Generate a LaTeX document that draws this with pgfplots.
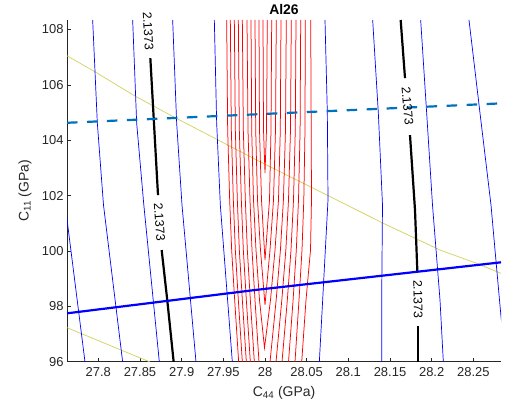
\documentclass[border=0pt]{standalone}
\usepackage{pgfplots}
\pgfplotsset{compat=1.18}
\usepackage{fontspec}
\setmainfont{Liberation Sans}
\definecolor{mblue}{rgb}{0,0.447,0.741}
\definecolor{yel}{rgb}{0.82,0.82,0.35}
\definecolor{axgray}{rgb}{0.15,0.15,0.15}
\begin{document}
\begin{tikzpicture}
\path[use as bounding box] (-67bp,-46.3bp) rectangle (440bp,361.7bp);
\begin{axis}[
  at={(0,0)}, anchor=south west,
  scale only axis, width=434bp, height=341.7bp,
  xmin=27.7624, xmax=28.2832, ymin=96, ymax=108.34,
  axis x line*=bottom, axis y line*=left,
  axis line style={-, draw=axgray, line width=0.5bp},
  tick align=inside, major tick length=4bp,
  tick style={draw=axgray, line width=0.5bp},
  clip mode=individual,
  xtick={27.8,27.85,27.9,27.95,28,28.05,28.1,28.15,28.2,28.25},
  xticklabels={27.8,27.85,27.9,27.95,28,28.05,28.1,28.15,28.2,28.25},
  ytick={96,98,100,102,104,106,108},
  yticklabels={96,98,100,102,104,106,108},
  /pgf/number format/assume math mode=true,
  ticklabel style={font=\fontsize{13}{15}\selectfont, text=axgray},
  xticklabel style={yshift=-2bp},
  title={\bfseries Al26},
  every axis title/.style={at={(axis description cs:0.5,1)}, anchor=base, yshift=5bp, font=\fontsize{14}{16}\selectfont},
  xlabel={C\textsubscript{44} (GPa)},
  ylabel={C\textsubscript{11} (GPa)},
  xlabel style={at={(axis description cs:0.5,-0.1019)}, anchor=base, font=\fontsize{14}{16}\selectfont, text=axgray},
  ylabel style={at={(axis description cs:-0.097,0.5)}, anchor=center, font=\fontsize{14}{16}\selectfont, text=axgray},
  redc/.style={red, line width=0.75bp},
  bluec/.style={blue, line width=0.7bp},
  blk/.style={black, line width=2.2bp},
]
% yellow lines
\addplot[yel, line width=0.7bp] coordinates {(27.7624,107.047)(27.796,106.469)(27.842,105.628)(27.89,104.845)(27.94,104.065)(27.994,103.22)(28.072,102.054)(28.142,100.997)(28.21,100.033)(28.254,99.553)(28.2832,99.188)};
\addplot[yel, line width=0.7bp] coordinates {(27.7624,97.228)(27.862,95.99)};
% blue thin contours
\addplot[bluec] coordinates {(27.7932,108.34)(27.7988,104.617)(27.8062,101.657)(27.8292,95.99)};
\addplot[bluec] coordinates {(27.8412,108.34)(27.846,104.617)(27.8546,101.657)(27.8732,95.99)};
\addplot[bluec] coordinates {(27.8892,108.34)(27.894,104.617)(27.9004,101.657)(27.9172,95.99)};
\addplot[bluec] coordinates {(27.9392,108.34)(27.942,104.617)(27.9464,101.657)(27.9608,95.99)};
\addplot[bluec] coordinates {(27.7603,101.64)(27.7624,101.141)(27.784,95.99)};
\addplot[bluec] coordinates {(28.072,108.34)(28.0748,104.978)(28.0756,101.838)(28.0692,98.228)(28.0652,95.99)};
\addplot[bluec] coordinates {(28.1292,108.34)(28.136,104.978)(28.141,101.657)(28.14,98.228)(28.14,95.99)};
\addplot[bluec] coordinates {(28.1868,108.34)(28.194,104.978)(28.201,101.657)(28.21,98.228)(28.214,95.99)};
\addplot[bluec] coordinates {(28.2448,108.34)(28.258,104.978)(28.2712,101.657)(28.276,100.033)(28.2832,97.625)(28.2856,96.964)};
% red contours: outer left
\addplot[redc] coordinates {(27.9540,108.34)(27.9552,104.37)(27.9576,101.84)(27.9600,100.03)(27.9636,98.23)(27.9684,95.99)};
\addplot[redc] coordinates {(27.9584,108.34)(27.9596,104.37)(27.9620,101.84)(27.9644,100.03)(27.9680,98.23)(27.9728,95.99)};
\addplot[redc] coordinates {(27.9632,108.34)(27.9644,104.37)(27.9668,101.84)(27.9692,100.03)(27.9728,98.23)(27.9776,95.99)};
\addplot[redc] coordinates {(27.9680,108.34)(27.9692,104.37)(27.9716,101.84)(27.9740,100.03)(27.9776,98.23)(27.9824,95.99)};
\addplot[redc] coordinates {(27.9728,108.34)(27.9740,104.37)(27.9764,101.84)(27.9788,100.03)(27.9824,98.23)(27.9872,95.99)};
\addplot[redc] coordinates {(27.9784,108.34)(27.9796,104.37)(27.9820,101.84)(27.9844,100.03)(27.9880,98.23)(27.9928,95.99)};
% red contours: nested V shapes
\addplot[redc] coordinates {(27.9976,108.34)(27.9982,104.37)(28.0000,102.81)(28.0018,104.37)(28.00276,108.34)};
\addplot[redc] coordinates {(27.9928,108.34)(27.9934,104.37)(27.9958,101.84)(28.0000,99.67)(28.0054,101.84)(28.0072,104.37)(28.00804,108.34)};
\addplot[redc] coordinates {(27.9880,108.34)(27.98884,104.37)(27.9910,101.84)(27.9946,100.03)(28.0000,98.05)(28.006,100.03)(28.0102,101.84)(28.0126,104.37)(28.01356,108.34)};
\addplot[redc] coordinates {(27.9832,108.34)(27.98404,104.37)(27.9862,101.84)(27.9892,100.03)(27.9934,98.23)(27.9994,96.50)(28.0066,98.23)(28.012,100.03)(28.0162,101.84)(28.01836,104.37)(28.0192,108.34)};
% red contours: outer right
\addplot[redc] coordinates {(28.02556,108.34)(28.0246,104.37)(28.0221,101.84)(28.0185,100.03)(28.0134,98.23)(28.006,95.99)};
\addplot[redc] coordinates {(28.03156,108.34)(28.0306,104.37)(28.0282,101.84)(28.025,100.03)(28.0202,98.23)(28.0132,95.99)};
\addplot[redc] coordinates {(28.0372,108.34)(28.03636,104.37)(28.0342,101.84)(28.0312,100.03)(28.0268,98.23)(28.0204,95.99)};
\addplot[redc] coordinates {(28.04284,108.34)(28.04212,104.37)(28.0402,101.84)(28.03756,100.03)(28.03372,98.23)(28.0282,95.99)};
\addplot[redc] coordinates {(28.04836,108.34)(28.048,104.37)(28.04656,101.84)(28.0444,100.03)(28.0408,98.23)(28.036,95.99)};
\addplot[redc] coordinates {(28.05484,108.34)(28.05544,104.37)(28.0558,101.84)(28.0546,100.03)(28.0492,98.23)(28.04404,95.99)};
% black 2.1373 contours
\addplot[blk] coordinates {(27.8624,106.964)(27.8716,102.018)};
\addplot[blk] coordinates {(27.876,100.033)(27.8827,98.228)(27.8904,95.99)};
\addplot[blk] coordinates {(28.1628,108.34)(28.168,106.242)};
\addplot[blk] coordinates {(28.174,104.184)(28.18,101.477)(28.1828,99.275)};
\addplot[blk] coordinates {(28.184,97.289)(28.184,95.99)};
% thick blue and dashed lines
\addplot[blue, line width=2.2bp] coordinates {(27.7624,97.747)(27.988,98.589)(28.2832,99.589)};
\addplot[mblue, line width=2.2bp, dash pattern=on 10.5bp off 9.5bp] coordinates {(27.7624,104.628)(28.2832,105.329)};
% contour labels
\node[rotate=-87, font=\fontsize{12.5}{14}\selectfont, inner sep=0pt] at (axis cs:27.8598,107.94) {2.1373};
\node[rotate=-86, font=\fontsize{12.5}{14}\selectfont, inner sep=0pt] at (axis cs:27.8734,101.044) {2.1373};
\node[rotate=-85, font=\fontsize{12.5}{14}\selectfont, inner sep=0pt] at (axis cs:28.171,105.231) {2.1373};
\node[rotate=-89, font=\fontsize{12.5}{14}\selectfont, inner sep=0pt] at (axis cs:28.1836,98.264) {2.1373};
\end{axis}
\end{tikzpicture}
\end{document}
